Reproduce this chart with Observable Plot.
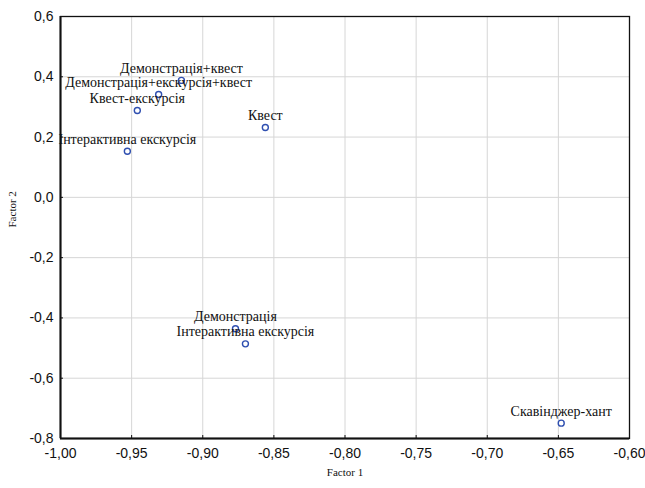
<!DOCTYPE html>
<html>
<head>
<meta charset="utf-8">
<script src="https://cdn.jsdelivr.net/npm/d3@7"></script>
<script src="https://cdn.jsdelivr.net/npm/@observablehq/plot@0.6"></script>
<style>
  html, body { margin: 0; padding: 0; background: #fff; }
</style>
</head>
<body>
<div id="chart"></div>
<script>
const labels = [
  "Демонстрація+квест",
  "Демонстрація+екскурсія+квест",
  "Квест-екскурсія",
  "Квест",
  "Інтерактивна екскурсія",
  "Демонстрація",
  "Інтерактивна екскурсія",
  "Скавінджер-хант"
];
const factor1 = [-0.915, -0.931, -0.946, -0.856, -0.953, -0.877, -0.870, -0.648];
const factor2 = [0.388, 0.341, 0.288, 0.232, 0.153, -0.436, -0.486, -0.749];

const xTicks = [-1.00, -0.95, -0.90, -0.85, -0.80, -0.75, -0.70, -0.65, -0.60];
const yTicks = [-0.8, -0.6, -0.4, -0.2, 0.0, 0.2, 0.4, 0.6];
const xTitle = "Factor 1";
const yTitle = "Factor 2";

const data = labels.map((label, i) => ({label, x: factor1[i], y: factor2[i]}));

const fmtX = d => d.toFixed(2).replace(".", ",");
const fmtY = d => (Math.abs(d) < 1e-9 ? 0 : d).toFixed(1).replace(".", ",");

const sans = "'Liberation Sans', Arial, sans-serif";
const serif = "'Liberation Serif', 'Times New Roman', serif";

const chart = Plot.plot({
  width: 645,
  height: 488,
  marginLeft: 60,
  marginRight: 16,
  marginTop: 16,
  marginBottom: 50,
  x: {domain: [-1, -0.6]},
  y: {domain: [-0.8, 0.6]},
  style: {background: "#fff"},
  marks: [
    Plot.gridX(xTicks, {stroke: "#d6d6d6", strokeOpacity: 1}),
    Plot.gridY(yTicks, {stroke: "#d6d6d6", strokeOpacity: 1}),
    Plot.frame({stroke: "#111", strokeWidth: 1.3}),
    Plot.ruleX([xTicks[0]], {stroke: "#111", strokeWidth: 2}),
    Plot.ruleY([yTicks[0]], {stroke: "#111", strokeWidth: 2}),
    Plot.axisX({ticks: xTicks, tickFormat: fmtX, tickSize: 0, tickPadding: 10, label: null,
      fontFamily: sans, fontSize: 14, fill: "#111"}),
    Plot.axisX({ticks: xTicks, tickSize: 3, text: null, label: null, dy: -3, stroke: "#111"}),
    Plot.axisY({ticks: yTicks, tickFormat: fmtY, tickSize: 0, tickPadding: 7, label: null,
      fontFamily: sans, fontSize: 14, fill: "#111"}),
    Plot.axisY({ticks: yTicks, tickSize: 3, text: null, label: null, dx: 3, stroke: "#111"}),
    Plot.text([xTitle], {frameAnchor: "bottom", dy: 34, lineAnchor: "middle",
      fontFamily: serif, fontSize: 11, fill: "#111"}),
    Plot.text([yTitle], {frameAnchor: "left", dx: -48, rotate: -90, lineAnchor: "middle",
      fontFamily: serif, fontSize: 11, fill: "#111"}),
    Plot.dot(data, {x: "x", y: "y", r: 3, stroke: "#2f4fb0", strokeWidth: 1.4, fill: "none"}),
    Plot.text(data, {x: "x", y: "y", text: "label", dy: -12, lineAnchor: "middle",
      fontFamily: serif, fontSize: 14, fill: "#111"})
  ]
});
document.getElementById("chart").appendChild(chart);
</script>
</body>
</html>
